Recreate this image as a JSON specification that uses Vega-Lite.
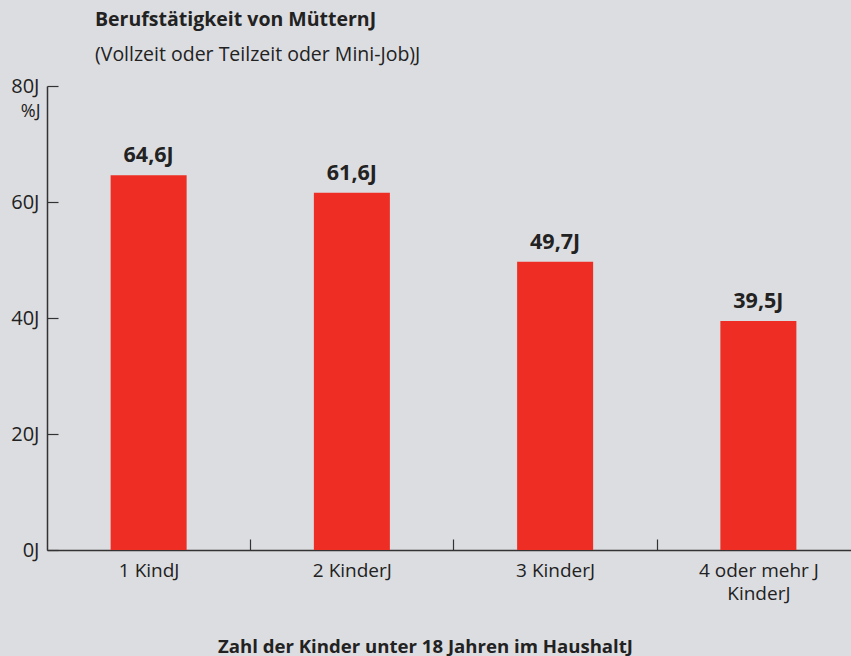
{
  "$schema": "https://vega.github.io/schema/vega-lite/v6.json",
  "autosize": "none",
  "width": 804,
  "height": 464,
  "padding": {"left": 47, "top": 86, "right": 0, "bottom": 106},
  "background": "#dcdde0",
  "config": {
    "font": "Open Sans",
    "view": {"stroke": null},
    "axis": {"labelColor": "#222222", "titleColor": "#222222", "domainColor": "#333333", "tickColor": "#333333", "grid": false}
  },
  "title": {
    "text": "Berufstätigkeit von MütternJ",
    "subtitle": "(Vollzeit oder Teilzeit oder Mini-Job)J",
    "anchor": "start",
    "frame": "group",
    "dx": 48,
    "offset": 11,
    "fontSize": 19.5,
    "fontWeight": "bold",
    "color": "#222222",
    "subtitleFontSize": 19.5,
    "subtitleColor": "#222222",
    "subtitlePadding": 15
  },
  "data": {
    "values": [
      {"kategorie": "1 Kind", "wert": 64.6},
      {"kategorie": "2 Kinder", "wert": 61.6},
      {"kategorie": "3 Kinder", "wert": 49.7},
      {"kategorie": "4 oder mehr Kinder", "wert": 39.5}
    ]
  },
  "encoding": {
    "x": {
      "field": "kategorie",
      "type": "nominal",
      "sort": null,
      "scale": {"range": [0, 813], "paddingInner": 0.626, "paddingOuter": 0.313},
      "axis": {
        "title": "Zahl der Kinder unter 18 Jahren im HaushaltJ",
        "titleFontSize": 18.6,
        "titleFontWeight": "bold",
        "titleX": 378,
        "titleY": 102,
        "titleAlign": "center",
        "titleBaseline": "alphabetic",
        "labelAngle": 0,
        "labelFontSize": 19,
        "labelPadding": 22,
        "labelLineHeight": 23,
        "labelBaseline": "top",
        "labelExpr": "datum.value == '4 oder mehr Kinder' ? ['4 oder mehr J', 'KinderJ'] : datum.value + 'J'",
        "tickOffset": 101.6,
        "labelOffset": -101.6,
        "tickSize": -11,
        "tickWidth": 1.2,
        "domainWidth": 1.5
      }
    },
    "y": {
      "field": "wert",
      "type": "quantitative",
      "scale": {"domain": [0, 80], "nice": false},
      "axis": {
        "values": [0, 20, 40, 60, 80],
        "labelExpr": "datum.label + 'J'",
        "labelFontSize": 20,
        "labelPadding": 19,
        "tickSize": -11,
        "tickWidth": 1.2,
        "domainWidth": 1.5,
        "title": "%J",
        "titleAngle": 0,
        "titleFontSize": 18,
        "titleFontWeight": "normal",
        "titleX": -7,
        "titleY": 25,
        "titleAlign": "right",
        "titleBaseline": "middle"
      }
    }
  },
  "layer": [
    {"mark": {"type": "bar", "color": "#ee2e24"}},
    {
      "transform": [{"calculate": "replace(format(datum.wert, '.1f'), '.', ',') + 'J'", "as": "beschriftung"}],
      "mark": {"type": "text", "baseline": "alphabetic", "dy": -13, "fontSize": 21.5, "fontWeight": "bold", "color": "#222222"},
      "encoding": {"text": {"field": "beschriftung"}}
    }
  ]
}
